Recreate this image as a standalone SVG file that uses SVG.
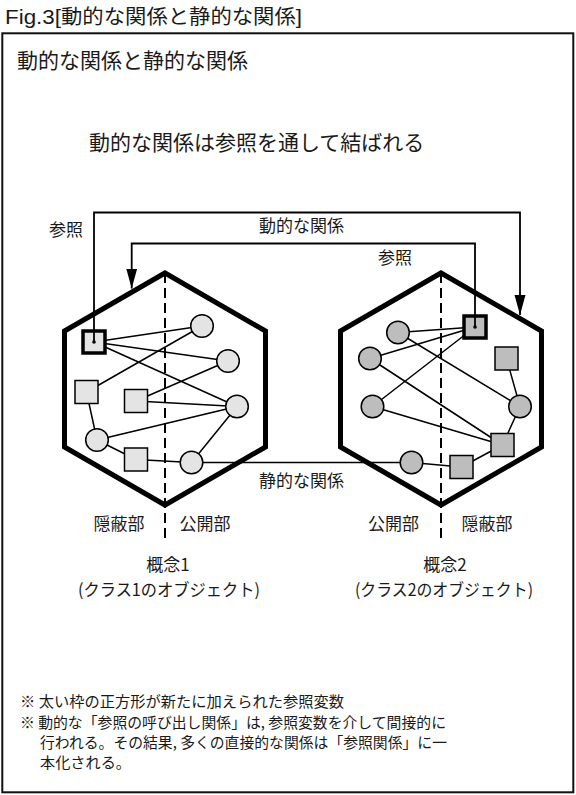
<svg xmlns="http://www.w3.org/2000/svg" width="576" height="795" viewBox="0 0 576 795">
<style>
text{font-family:"Noto Sans CJK JP","Noto Sans CJK SC",sans-serif;fill:#1a1a1a}
.lbl{font-size:17px;text-anchor:middle}
.note{font-size:15px}
.hex{fill:#fff;stroke:#000;stroke-width:5;stroke-linejoin:miter}
.dash{stroke:#000;stroke-width:2;stroke-dasharray:10 5;fill:none}
.edge{stroke:#000;stroke-width:1.5;fill:none}
.ref{stroke:#000;stroke-width:1.8;fill:none}
.n1{fill:#e4e4e4;stroke:#000;stroke-width:1.5}
.n2{fill:#bdbdbd;stroke:#000;stroke-width:1.5}
.thick{stroke-width:3.5}
</style>
<defs>
<marker id="ah" markerUnits="userSpaceOnUse" markerWidth="22" markerHeight="12" refX="20" refY="5.5" orient="auto">
<path d="M0,0 L20,5.5 L0,11 z" fill="#000"/>
</marker>
</defs>
<rect x="2.3" y="33.3" width="571" height="759" fill="#fff" stroke="#111" stroke-width="2"/>
<text x="5" y="23.5" font-size="20" textLength="297" lengthAdjust="spacingAndGlyphs"><tspan font-family="Liberation Sans,sans-serif" font-size="21">Fig.3[</tspan>動的な関係と静的な関係<tspan font-family="Liberation Sans,sans-serif" font-size="21">]</tspan></text>
<text x="17" y="68" font-size="21">動的な関係と静的な関係</text>
<text x="89" y="150" font-size="21">動的な関係は参照を通して結ばれる</text>

<g id="concept1">
<polygon class="hex" points="165,273 265.5,331 265.5,447 165,505 64.5,447 64.5,331"/>
<line class="dash" x1="165" y1="273" x2="165" y2="543"/>
</g>
<g id="concept2">
<polygon class="hex" points="441,273 541.5,331 541.5,447 441,505 340.5,447 340.5,331"/>
<line class="dash" x1="441" y1="273" x2="441" y2="543"/>
</g>

<g id="connectors">
<path class="edge" d="M94,342 L202,326 M94,342 L228,361 M94,342 L237,406.5 M86.5,392 L202,326 M136,401 L228,361 M136,401 L237,406.5 M97,440 L237,406.5 M86.5,392 L97,440 M97,440 L136,459.5 M136,459.5 L191.5,462.5 M191.5,462.5 L237,406.5"/>
<path class="edge" d="M398,332.5 L475,327 M370,358.5 L475,327 M372.5,406.5 L475,327 M398,332.5 L520,406.5 M370,358.5 L502.5,445 M372.5,406.5 L502.5,445 M506.5,358.5 L520,406.5 M520,406.5 L502.5,445 M502.5,445 L461.5,467 M411.5,462.5 L461.5,467"/>
<path id="static" class="edge" d="M191.5,462.5 H411.5"/>
</g>

<g id="nodes1">
<rect class="n1 thick" x="83" y="331" width="22" height="22"/>
<circle cx="94" cy="342" r="1.8" fill="#000"/>
<circle class="n1" cx="202" cy="326" r="11.3"/>
<circle class="n1" cx="228" cy="361" r="11.3"/>
<circle class="n1" cx="237" cy="406.5" r="11.3"/>
<circle class="n1" cx="97" cy="440" r="11.3"/>
<circle class="n1" cx="191.5" cy="462.5" r="11.3"/>
<rect class="n1" x="75" y="380.5" width="23" height="23"/>
<rect class="n1" x="124.5" y="389.5" width="23" height="23"/>
<rect class="n1" x="124.5" y="448" width="23" height="23"/>
</g>
<g id="nodes2">
<rect class="n2 thick" x="464" y="316" width="22" height="22"/>
<circle cx="475" cy="327" r="1.8" fill="#000"/>
<circle class="n2" cx="398" cy="332.5" r="11.3"/>
<circle class="n2" cx="370" cy="358.5" r="11.3"/>
<circle class="n2" cx="372.5" cy="406.5" r="11.3"/>
<circle class="n2" cx="520" cy="406.5" r="11.3"/>
<circle class="n2" cx="411.5" cy="462.5" r="11.3"/>
<rect class="n2" x="495" y="347" width="23" height="23"/>
<rect class="n2" x="491" y="433.5" width="23" height="23"/>
<rect class="n2" x="450" y="455.5" width="23" height="23"/>
</g>

<g id="ref-connectors">
<path class="ref" d="M94,342 V212.5 H520 V315" marker-end="url(#ah)"/>
<path class="ref" d="M475,327 V243.5 H131.7 V288.5" marker-end="url(#ah)"/>
</g>

<g id="labels">
<text class="lbl" x="66" y="235.5">参照</text>
<text class="lbl" x="301.5" y="232">動的な関係</text>
<text class="lbl" x="395" y="263.5">参照</text>
<text class="lbl" x="301.5" y="487">静的な関係</text>
<text class="lbl" x="119" y="530">隠蔽部</text>
<text class="lbl" x="205" y="530">公開部</text>
<text class="lbl" x="393.5" y="530">公開部</text>
<text class="lbl" x="487" y="530">隠蔽部</text>
<text class="lbl" x="168" y="570.5">概念1</text>
<text class="lbl" x="445" y="570.5">概念2</text>
<text class="lbl" x="169" y="596" textLength="182" lengthAdjust="spacingAndGlyphs">(クラス1のオブジェクト)</text>
<text class="lbl" x="444" y="596" textLength="178" lengthAdjust="spacingAndGlyphs">(クラス2のオブジェクト)</text>
</g>

<g id="notes">
<text class="note" x="20" y="707" textLength="324" lengthAdjust="spacingAndGlyphs">※ 太い枠の正方形が新たに加えられた参照変数</text>
<text class="note" x="20" y="727.5" textLength="426" lengthAdjust="spacingAndGlyphs">※ 動的な「参照の呼び出し関係」は, 参照変数を介して間接的に</text>
<text class="note" x="40" y="748" textLength="407" lengthAdjust="spacingAndGlyphs">行われる。その結果, 多くの直接的な関係は「参照関係」に一</text>
<text class="note" x="40" y="768" textLength="91" lengthAdjust="spacingAndGlyphs">本化される。</text>
</g>
</svg>
